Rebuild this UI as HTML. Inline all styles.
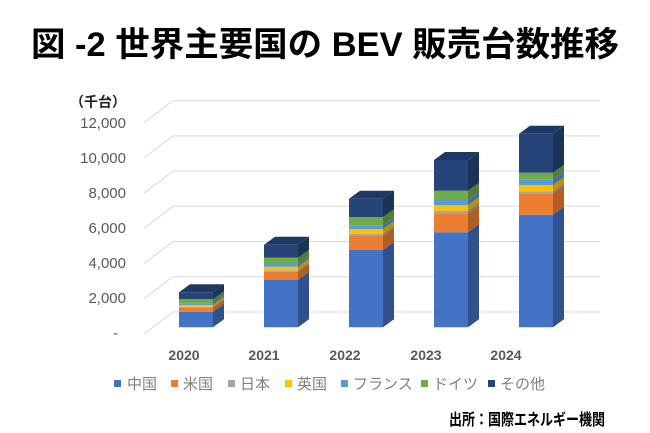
<!DOCTYPE html>
<html><head><meta charset="utf-8"><style>
html,body{margin:0;padding:0;background:#fff;}
svg{display:block;}
</style></head><body>
<svg width="650" height="433" xmlns="http://www.w3.org/2000/svg" font-family="'Liberation Sans','Noto Sans CJK JP',sans-serif">
<rect width="650" height="433" fill="#fff"/>
<text x="325" y="56" text-anchor="middle" font-size="34" font-weight="bold" fill="#000" textLength="588" lengthAdjust="spacingAndGlyphs">図 -2 世界主要国の BEV 販売台数推移</text>
<text x="98" y="107" text-anchor="middle" font-size="14" font-weight="bold" fill="#222">（千台）</text>
<g stroke="#d9d9d9" stroke-width="1" fill="none">
<path d="M144,122.7 L173,100.7 H600"/>
<path d="M144,157.9 L173,135.9 H600"/>
<path d="M144,193.1 L173,171.1 H600"/>
<path d="M144,228.3 L173,206.3 H600"/>
<path d="M144,263.5 L173,241.5 H600"/>
<path d="M144,298.7 L173,276.7 H600"/>
<path d="M144,334 L173,312 H600"/>
</g>
<g font-size="15" fill="#595959" text-anchor="end">
<text x="126" y="128">12,000</text>
<text x="126" y="163">10,000</text>
<text x="126" y="198">8,000</text>
<text x="126" y="233">6,000</text>
<text x="126" y="268">4,000</text>
<text x="126" y="303">2,000</text>
<text x="118" y="338">-</text>
</g>
<g id="bars"></g>
<g font-size="14" font-weight="bold" fill="#595959" text-anchor="middle">
<text x="184" y="360">2020</text>
<text x="264" y="360">2021</text>
<text x="345" y="360">2022</text>
<text x="426" y="360">2023</text>
<text x="506" y="360">2024</text>
</g>
<g font-size="15" fill="#808080">
<rect x="114" y="380" width="7" height="7" fill="#4472C4"/><text x="127" y="389">中国</text>
<rect x="171" y="380" width="7" height="7" fill="#ED7D31"/><text x="183" y="389">米国</text>
<rect x="228" y="380" width="7" height="7" fill="#A5A5A5"/><text x="240" y="389">日本</text>
<rect x="285" y="380" width="7" height="7" fill="#FFC000"/><text x="297" y="389">英国</text>
<rect x="341" y="380" width="7" height="7" fill="#5B9BD5"/><text x="353" y="389">フランス</text>
<rect x="421" y="380" width="7" height="7" fill="#70AD47"/><text x="433" y="389">ドイツ</text>
<rect x="488" y="380" width="7" height="7" fill="#264478"/><text x="500" y="389">その他</text>
</g>
<text x="605" y="425" text-anchor="end" font-size="16" font-weight="bold" fill="#000" textLength="156" lengthAdjust="spacingAndGlyphs">出所：国際エネルギー機関</text>
<!-- bars -->
<g>
<!-- helper geometry: front x1..x2 (w=34), side dx=11 dy=-8 -->
</g>
<script>
(function(){
var ns="http://www.w3.org/2000/svg";
var g=document.getElementById("bars");
var front=["#4472C4","#ED7D31","#A5A5A5","#FFC000","#5B9BD5","#70AD47","#264478"];
var side=["#2F528F","#B25D22","#7C7C7C","#BF9000","#41719C","#507E32","#1C3358"];
var xs=[179,264,349,434,519];
var data=[
[327.3,311.7,307.3,306.7,305,303.3,299.3,292.3],
[327.3,280,271.7,270.3,266.7,264,257.7,244.7],
[327.3,250,236,233.7,229,225.3,217,198.7],
[327.3,232.3,213.3,210.7,205.3,200,190.7,160],
[327.3,214.7,193.7,191.3,185,179.3,172.7,133.7]];
function poly(pts,fill){var p=document.createElementNS(ns,"polygon");p.setAttribute("points",pts);p.setAttribute("fill",fill);g.appendChild(p);}
for(var b=0;b<5;b++){
var x1=xs[b],x2=x1+34,d=data[b];
for(var i=0;i<7;i++){
var yb=d[i],yt=d[i+1];
poly(x1+","+yb+" "+x2+","+yb+" "+x2+","+yt+" "+x1+","+yt,front[i]);
poly(x2+","+yb+" "+(x2+11)+","+(yb-8)+" "+(x2+11)+","+(yt-8)+" "+x2+","+yt,side[i]);
}
var t=d[7];
poly(x1+","+t+" "+(x1+11)+","+(t-8)+" "+(x2+11)+","+(t-8)+" "+x2+","+t,"#1F3864");
}
})();
</script>
</svg>
</body></html>
